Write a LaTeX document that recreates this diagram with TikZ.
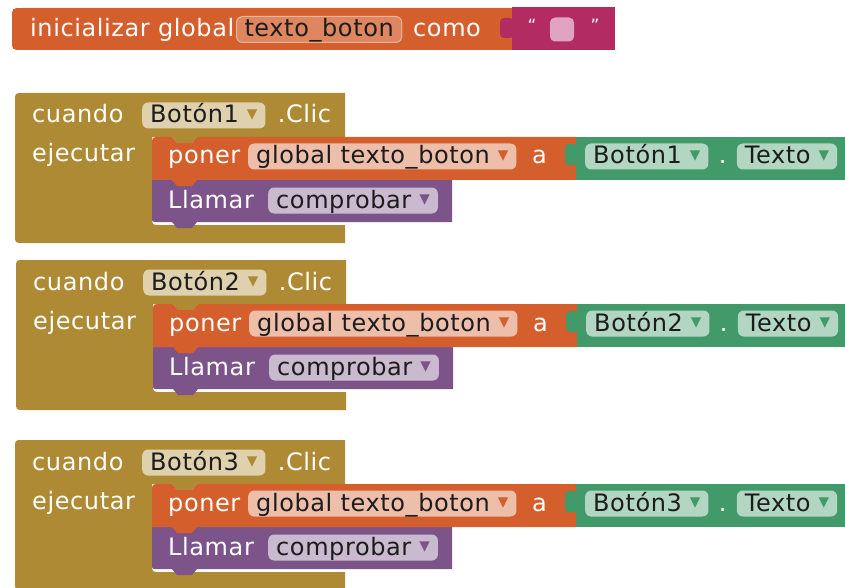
\documentclass[tikz,border=0pt]{standalone}
\usepackage{fontspec}
\setmainfont{DejaVu Sans}
\newfontfamily\blockfamily{DejaVu Sans}[LetterSpace=2.5]
\usetikzlibrary{positioning}

\definecolor{varorange}{RGB}{212,94,44}
\definecolor{textpink}{RGB}{178,43,97}
\definecolor{pinkfield}{RGB}{224,164,192}
\definecolor{ctrlgold}{RGB}{175,138,53}
\definecolor{procpurple}{RGB}{124,84,137}
\definecolor{compgreen}{RGB}{66,153,106}
\definecolor{fieldtext}{RGB}{28,28,28}

\newcommand{\blockfont}{\blockfamily\fontsize{24}{28}\selectfont}
\newcommand{\dropmark}[1]{\hspace{8pt}\raisebox{2.5pt}{\color{#1}\fontsize{21}{21}\selectfont ▾}}

\tikzset{
  blocklabel/.style={
    anchor=base west, inner sep=0pt,
    text=white, font=\blockfont
  },
  blockfield/.style={
    anchor=base west, rounded corners=6pt,
    fill=white, fill opacity=0.6, text opacity=1,
    text=fieldtext, font=\blockfont,
    inner xsep=8pt, inner ysep=0.5pt,
    text height=20pt, text depth=5pt
  },
  namefield/.style={
    blockfield, fill opacity=0.25,
    draw=white, draw opacity=0.45, line width=1pt
  },
  quotemark/.style={
    inner sep=0pt, text=white,
    font=\fontsize{17}{17}\selectfont
  },
  emptyfield/.style={
    fill=pinkfield, rounded corners=5pt,
    minimum size=24pt, inner sep=0pt
  },
}

\begin{document}
\begin{tikzpicture}[x=1pt, y=-1pt]

  \useasboundingbox (0,0) rectangle (845,588);
  \clip (0,0) rectangle (845,588);

  %% global variable block
  \fill[varorange] (12,18) .. controls (12,8) .. (22,8)
    -- (512,8) -- (512,50) -- (22,50) .. controls (12,50) .. (12,40) -- cycle;
  \fill[textpink] (512,7) rectangle (615,50);
  \fill[textpink, rounded corners=4pt] (500,18) rectangle (514,38);

  \node[blocklabel] (initlbl) at (30,37) {inicializar global};
  \node[namefield] (varname) at (236,37) {texto\_boton};
  \node[blocklabel] (comolbl) at (413,37) {como};
  \node[quotemark] (qopen) at (532,25) {“};
  \node[emptyfield] (emptystr) at (562,29.5) {};
  \node[quotemark] (qclose) at (595,25) {”};

  %% one click handler per button
  \foreach \n/\dx/\dy in {1/0/0, 2/1/167, 3/0/347} {
    \begin{scope}[shift={(\dx,\dy)}]

      %% event frame
      \fill[ctrlgold] (15,101) .. controls (15,93) .. (23,93)
        -- (345,93) -- (345,137) -- (197,137) -- (192,143) -- (177,143)
        -- (172,137) -- (152,137) -- (152,217) .. controls (152,225) .. (160,225)
        -- (345,225) -- (345,243) -- (23,243) .. controls (15,243) .. (15,235)
        -- cycle;

      %% call statement
      \fill[procpurple] (152,180) -- (452,180) -- (452,222) -- (197,222)
        -- (192,228) -- (177,228) -- (172,222) -- (157,222)
        .. controls (152,222) .. (152,217) -- cycle;

      %% set statement
      \fill[varorange] (152,180) -- (152,145) .. controls (152,137) .. (160,137)
        -- (172,137) -- (177,143) -- (192,143) -- (197,137) -- (576,137)
        -- (576,180) -- (197,180) -- (192,186) -- (177,186) -- (172,180)
        -- cycle;

      %% component getter
      \fill[compgreen] (576,137) rectangle (860,180);
      \fill[compgreen, rounded corners=4pt] (565,144) rectangle (578,165);

      \node[blocklabel] (cuando\n) at (32,123) {cuando};
      \node[blockfield] (sel\n) at (142,123) {Botón\n\dropmark{ctrlgold}};
      \node[blocklabel, base right=12pt of sel\n] (clic\n) {.Clic};
      \node[blocklabel] (ejec\n) at (32,162) {ejecutar};

      \node[blocklabel] (poner\n) at (168,164) {poner};
      \node[blockfield] (var\n) at (248,164) {global texto\_boton\dropmark{varorange}};
      \node[blocklabel] (a\n) at (532,164) {a};
      \node[blockfield] (comp\n) at (585,164) {Botón\n\dropmark{compgreen}};
      \node[blocklabel, base right=10pt of comp\n] (dot\n) {.};
      \node[blockfield, base right=10pt of dot\n] (prop\n) {Texto\dropmark{compgreen}};

      \node[blocklabel] (llamar\n) at (168,208) {Llamar};
      \node[blockfield] (proc\n) at (268,208) {comprobar\dropmark{procpurple}};

    \end{scope}
  }

\end{tikzpicture}
\end{document}
